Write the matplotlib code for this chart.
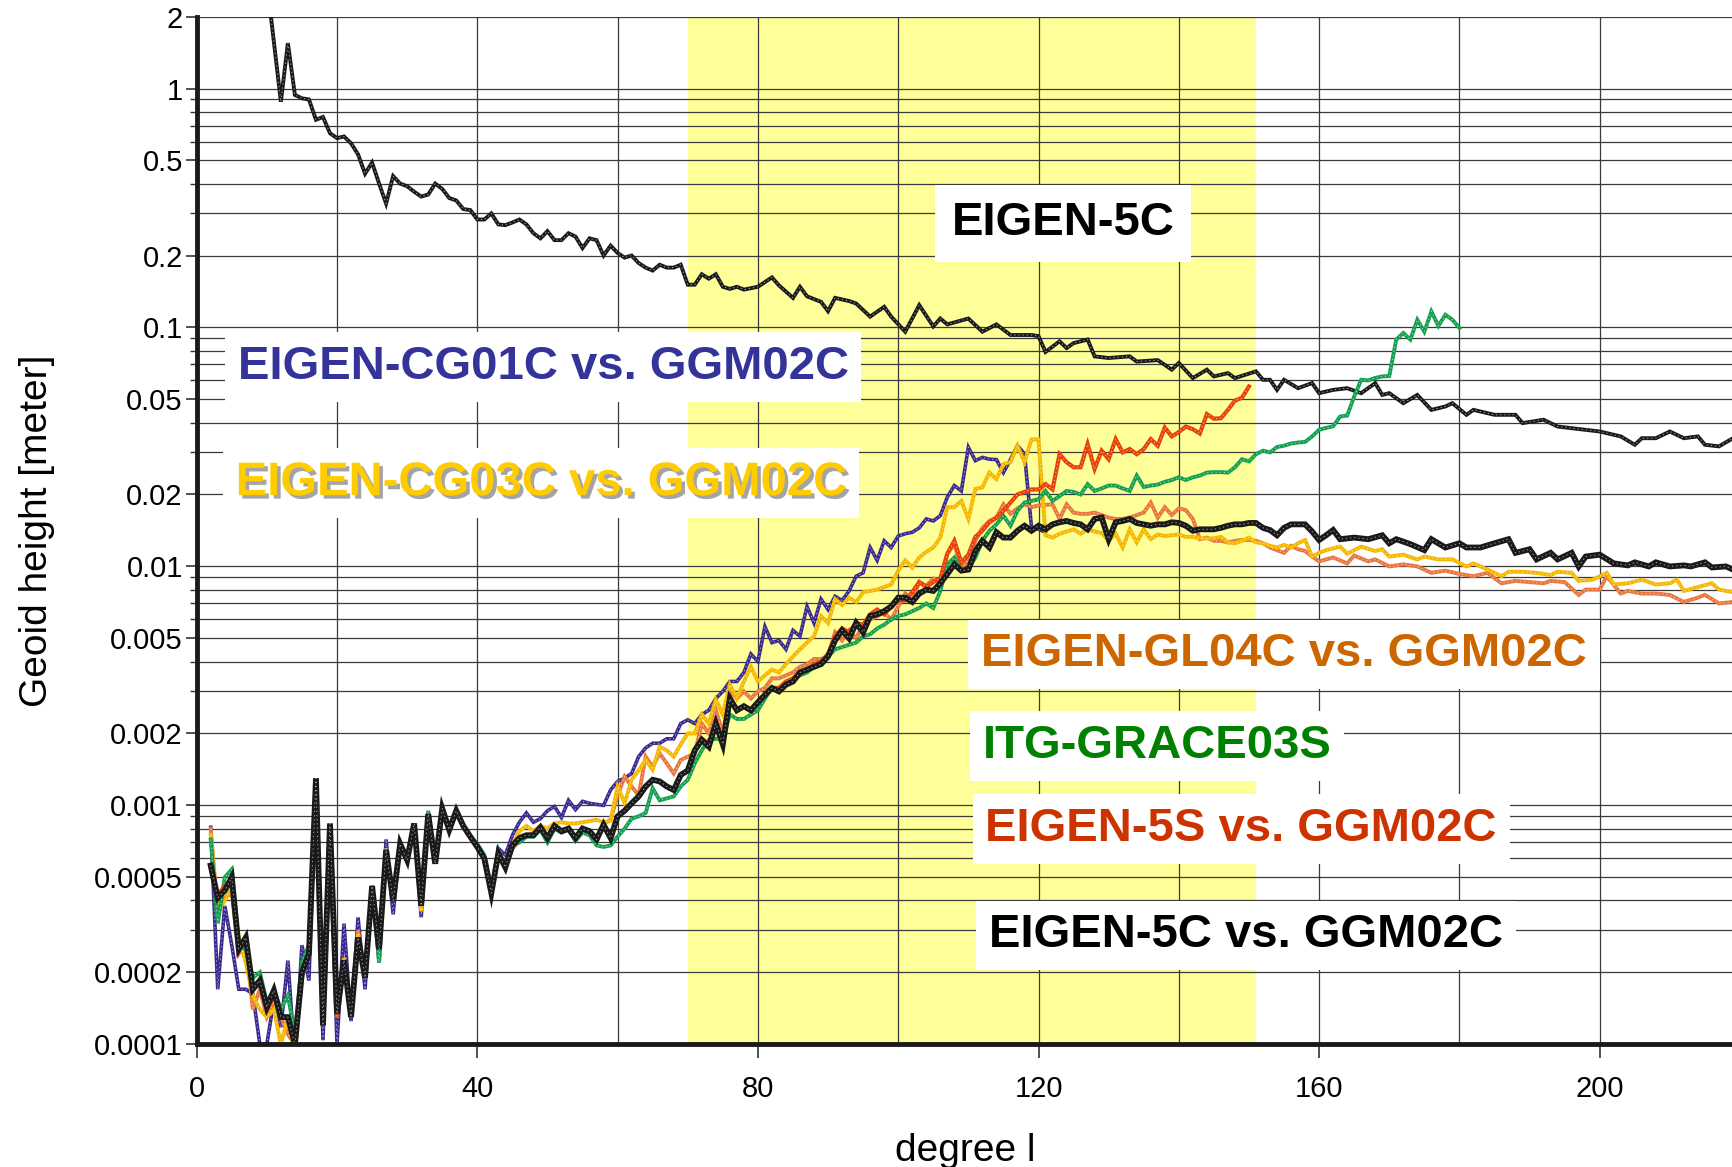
import matplotlib
matplotlib.use("Agg")
import matplotlib.pyplot as plt
import matplotlib.patheffects as pe
from matplotlib.ticker import FixedLocator, LogLocator, NullFormatter, MultipleLocator

plt.rcParams['font.family'] = ['Liberation Sans', 'DejaVu Sans']

# ---------------- data (geoid height per degree, metres) ----------------
# EIGEN-5C signal
sig_deg = [10] + list(range(12, 81)) + [
    82, 83, 85, 86, 87, 89, 90, 91, 93, 94,
    96, 98, 99, 101, 103, 105, 106, 107, 110, 112,
    114, 116, 119, 120, 121, 123, 124, 125, 127, 128,
    130, 133, 134, 137, 139, 140, 142, 144, 145, 147,
    148, 151, 152, 153, 154, 155, 157, 159, 160, 162,
    164, 166, 168, 169, 170, 172, 174, 176, 178, 179,
    181, 182, 184, 185, 188, 189, 192, 194, 196, 198,
    200, 203, 205, 206, 208, 210, 212, 214, 215, 217,
    219]
sig_val = [2.8,
    0.88, 1.55, 0.94, 0.91, 0.90, 0.74, 0.76, 0.65, 0.62, 0.63,
    0.59, 0.53, 0.44, 0.49, 0.40, 0.33, 0.43, 0.40, 0.39, 0.37,
    0.353, 0.36, 0.40, 0.38, 0.348, 0.34, 0.313, 0.31, 0.283, 0.283,
    0.30, 0.27, 0.268, 0.275, 0.283, 0.27, 0.248, 0.236, 0.253, 0.232,
    0.232, 0.248, 0.24, 0.215, 0.236, 0.232, 0.20, 0.22, 0.205, 0.196,
    0.20, 0.186, 0.178, 0.173, 0.183, 0.178, 0.178, 0.183, 0.151, 0.151,
    0.167, 0.160, 0.167, 0.148, 0.145, 0.148, 0.144, 0.146, 0.148,
    0.162, 0.150, 0.133, 0.148, 0.135, 0.128, 0.117, 0.133, 0.129, 0.126,
    0.111, 0.122, 0.111, 0.096, 0.124, 0.101, 0.109, 0.103, 0.109, 0.096,
    0.103, 0.093, 0.093, 0.092, 0.079, 0.0875, 0.082, 0.086, 0.089, 0.0757,
    0.0745, 0.0757, 0.072, 0.073, 0.0666, 0.071, 0.0614, 0.0666, 0.0624, 0.0644,
    0.0614, 0.0655, 0.0604, 0.0604, 0.0548, 0.0604, 0.0557, 0.0585, 0.0531, 0.0548,
    0.0557, 0.0531, 0.0585, 0.0522, 0.0531, 0.0482, 0.0522, 0.0452, 0.0467, 0.0482,
    0.0431, 0.0452, 0.0438, 0.0431, 0.0431, 0.0398, 0.0411, 0.0385, 0.0379, 0.0373,
    0.0367, 0.035, 0.0323, 0.0344, 0.0344, 0.0367, 0.0344, 0.035, 0.0323, 0.0318,
    0.0344]

# EIGEN-CG01C vs. GGM02C
cg01_deg = list(range(2, 122))
cg01_val = [
    0.00081, 0.00017, 0.00038, 0.00026, 0.00017, 0.00017, 0.000163, 0.00010, 0.00010, 0.000153,
    0.000118, 0.000224, 0.000086, 0.00026, 0.000185, 0.0013, 0.000104, 0.00080, 0.00010, 0.00032,
    0.000125, 0.00034, 0.00017, 0.00046, 0.00022, 0.00072, 0.00035, 0.00069, 0.00062, 0.00084,
    0.00034, 0.00090, 0.00057, 0.00097, 0.00079, 0.00095, 0.00082, 0.00074, 0.00067, 0.00060,
    0.00043, 0.00066, 0.00062, 0.00075, 0.00085, 0.00093, 0.00085, 0.00088, 0.00095, 0.00099,
    0.00089, 0.00105, 0.00096, 0.00104, 0.00102, 0.00101, 0.00100, 0.00116, 0.00126, 0.00130,
    0.00136, 0.00160, 0.00174, 0.00182, 0.00182, 0.00190, 0.00190, 0.0022, 0.00228, 0.0022,
    0.0024, 0.0025, 0.0028, 0.0030, 0.0033, 0.0033, 0.0036, 0.0043, 0.0040, 0.0056,
    0.0048, 0.0049, 0.0045, 0.0054, 0.0051, 0.0068, 0.0058, 0.0073, 0.0066, 0.0075,
    0.0072, 0.0079, 0.0091, 0.0094, 0.0120, 0.0106, 0.0128, 0.0120, 0.0134, 0.0137,
    0.0139, 0.0145, 0.0158, 0.0155, 0.0163, 0.0195, 0.0218, 0.0207, 0.0315, 0.0277,
    0.0286, 0.0281, 0.0280, 0.0247, 0.0280, 0.0320, 0.0296, 0.0146, 0.0143, 0.0139]

# EIGEN-CG03C vs. GGM02C
cg03_deg = list(range(2, 164)) + [
    164, 166, 168, 169, 170, 172, 174, 175, 177, 179,
    181, 182, 184, 186, 187, 189, 191, 193, 194, 196,
    197, 199, 201, 202, 204, 206, 208, 210, 211, 212,
    214, 216, 217, 219]
cg03_val = [
    0.00075, 0.00036, 0.00040, 0.00045, 0.00028, 0.00022, 0.00016, 0.00014, 0.00013, 0.00014,
    0.00010, 0.00013, 0.000090, 0.00020, 0.00025, 0.0013, 0.00012, 0.00080, 0.00013, 0.00023,
    0.00013, 0.00029, 0.00019, 0.00046, 0.00025, 0.00066, 0.00040, 0.00069, 0.00059, 0.00082,
    0.00036, 0.00092, 0.00057, 0.00097, 0.00079, 0.00095, 0.00082, 0.00074, 0.00067, 0.00060,
    0.00043, 0.00063, 0.00055, 0.00068, 0.00078, 0.00082, 0.00078, 0.00082, 0.00080, 0.00084,
    0.00085, 0.00084, 0.00084, 0.00085, 0.00086, 0.00087, 0.00085, 0.00086, 0.00120, 0.00102,
    0.00128, 0.00140, 0.00155, 0.00141, 0.00176, 0.00170, 0.00160, 0.00180, 0.0020, 0.0020,
    0.0024, 0.0022, 0.00277, 0.0024, 0.0032, 0.0028, 0.0033, 0.0038, 0.0033, 0.0035,
    0.0037, 0.0036, 0.0039, 0.0042, 0.0045, 0.0048, 0.0051, 0.0062, 0.0058, 0.0073,
    0.0069, 0.0074, 0.0071, 0.0078, 0.0079, 0.0080, 0.0082, 0.0084, 0.0096, 0.0106,
    0.0099, 0.0109, 0.0115, 0.0120, 0.0132, 0.0177, 0.0177, 0.0188, 0.0158, 0.0211,
    0.0214, 0.0247, 0.0232, 0.0268, 0.0273, 0.0320, 0.0273, 0.0340, 0.0340, 0.0135,
    0.0132, 0.0137, 0.0140, 0.0143, 0.0137, 0.0143, 0.0140, 0.0138, 0.0128, 0.0137,
    0.0120, 0.0143, 0.0126, 0.0143, 0.0130, 0.0136, 0.0134, 0.0135, 0.0136, 0.0133,
    0.0133, 0.0131, 0.0131, 0.0131, 0.0133, 0.0126, 0.0125, 0.0128, 0.0132, 0.0126,
    0.0125, 0.0122, 0.0120, 0.0123, 0.0120, 0.0125, 0.0129, 0.0110, 0.0114, 0.0117,
    0.0119, 0.0121,
    0.0113, 0.0121, 0.0116, 0.0118, 0.0110, 0.0112, 0.0107, 0.0110, 0.0107, 0.0107,
    0.0100, 0.0103, 0.0097, 0.0091, 0.0095, 0.0095, 0.0094, 0.0092, 0.0095, 0.0094,
    0.0087, 0.0088, 0.0094, 0.0084, 0.0085, 0.0088, 0.0084, 0.0085, 0.0088, 0.0079,
    0.0082, 0.0085, 0.0080, 0.0078]

# EIGEN-GL04C vs. GGM02C
gl04_deg = list(range(2, 162)) + [
    162, 164, 165, 167, 168, 170, 172, 174, 176, 178,
    180, 182, 184, 186, 188, 190, 192, 193, 195, 197,
    198, 200, 201, 203, 204, 206, 208, 210, 212, 214,
    215, 217, 219]
gl04_val = [
    0.00080, 0.00035, 0.00041, 0.00043, 0.00024, 0.00027, 0.00014, 0.00017, 0.00013, 0.00015,
    0.00013, 0.00011, 0.00010, 0.00019, 0.00024, 0.0013, 0.00012, 0.00080, 0.00013, 0.00022,
    0.00013, 0.00030, 0.00019, 0.00045, 0.00025, 0.00066, 0.00040, 0.00069, 0.00059, 0.00084,
    0.00037, 0.00092, 0.00057, 0.00097, 0.00079, 0.00095, 0.00082, 0.00074, 0.00067, 0.00060,
    0.00043, 0.00063, 0.00055, 0.00066, 0.00071, 0.00075, 0.00076, 0.00080, 0.00072, 0.00080,
    0.00077, 0.00079, 0.00072, 0.00079, 0.00076, 0.00070, 0.00084, 0.00087, 0.00110, 0.00132,
    0.00120, 0.00110, 0.00160, 0.00145, 0.00165, 0.00150, 0.00136, 0.00155, 0.00160, 0.00165,
    0.0022, 0.0020, 0.0025, 0.0020, 0.0030, 0.0028, 0.0030, 0.0028, 0.0030, 0.0031,
    0.0034, 0.0034, 0.0035, 0.0036, 0.0038, 0.0039, 0.0041, 0.0041, 0.0042, 0.0053,
    0.0049, 0.0054, 0.0050, 0.0057, 0.0060, 0.0062, 0.0064, 0.0060, 0.0068, 0.0077,
    0.0072, 0.0086, 0.0083, 0.0089, 0.0087, 0.0113, 0.0124, 0.0099, 0.0106, 0.0128,
    0.0145, 0.0155, 0.0160, 0.0182, 0.0166, 0.0175, 0.0182, 0.0177, 0.0180, 0.0181,
    0.0182, 0.0158, 0.0182, 0.0168, 0.0166, 0.0166, 0.0168, 0.0164, 0.0160, 0.0158,
    0.0158, 0.0160, 0.0164, 0.0168, 0.0185, 0.0160, 0.0177, 0.0164, 0.0175, 0.0172,
    0.0158, 0.0130, 0.0132, 0.0128, 0.0128, 0.0126, 0.0128, 0.0129, 0.0129, 0.0128,
    0.0125, 0.0120, 0.0117, 0.0114, 0.0122, 0.0118, 0.0116, 0.0110, 0.0105, 0.0107,
    0.0109, 0.0103, 0.0111, 0.0105, 0.0107, 0.0100, 0.0102, 0.0100, 0.0094, 0.0096,
    0.0093, 0.0091, 0.0094, 0.0085, 0.0087, 0.0086, 0.0085, 0.0087, 0.0086, 0.0076,
    0.0080, 0.0080, 0.0091, 0.0077, 0.0079, 0.0077, 0.0077, 0.0076, 0.0071, 0.0074,
    0.0076, 0.0070, 0.0071]

# ITG-GRACE03S
itg_deg = list(range(2, 181))
itg_val = [
    0.00072, 0.00032, 0.00050, 0.00054, 0.00026, 0.00025, 0.00019, 0.00020, 0.00015, 0.00017,
    0.00014, 0.00016, 0.00011, 0.00022, 0.00026, 0.0013, 0.00013, 0.00062, 0.00014, 0.00021,
    0.00015, 0.00028, 0.00019, 0.00046, 0.00022, 0.00066, 0.00040, 0.00069, 0.00059, 0.00084,
    0.00038, 0.00095, 0.00057, 0.00097, 0.00079, 0.00095, 0.00082, 0.00074, 0.00069, 0.00062,
    0.00044, 0.00065, 0.00055, 0.00068, 0.00070, 0.00074, 0.00074, 0.00079, 0.00070, 0.00080,
    0.00077, 0.00079, 0.00071, 0.00077, 0.00075, 0.00068, 0.00067, 0.00068, 0.00074, 0.00080,
    0.00088, 0.00090, 0.00093, 0.00118, 0.00105, 0.00107, 0.00109, 0.00120, 0.00128, 0.00150,
    0.00170, 0.00188, 0.0019, 0.0019, 0.0024, 0.0023, 0.0023, 0.0024, 0.0025, 0.0028,
    0.0031, 0.0030, 0.0032, 0.0034, 0.0035, 0.0036, 0.0038, 0.0039, 0.0042, 0.0045,
    0.0046, 0.0047, 0.0048, 0.0051, 0.0052, 0.0055, 0.0057, 0.0060, 0.0062, 0.0063,
    0.0065, 0.0067, 0.0070, 0.0067, 0.0079, 0.0102, 0.0109, 0.0096, 0.0098, 0.0109,
    0.0128, 0.0141, 0.0150, 0.0163, 0.0148, 0.0171, 0.0185, 0.0188, 0.0191, 0.0207,
    0.0188, 0.0197, 0.0207, 0.0205, 0.0200, 0.0221, 0.0207, 0.0212, 0.0218, 0.0218,
    0.0212, 0.0207, 0.0240, 0.0215, 0.0218, 0.0220, 0.0226, 0.0230, 0.0236, 0.0230,
    0.0236, 0.0240, 0.0247, 0.0248, 0.0248, 0.0247, 0.0260, 0.0281, 0.0275, 0.0295,
    0.0305, 0.0300, 0.0316, 0.0320, 0.0327, 0.0330, 0.0332, 0.0350, 0.0373, 0.0380,
    0.0386, 0.0424, 0.0428, 0.0514, 0.0604, 0.0600, 0.0615, 0.0624, 0.0626, 0.0890,
    0.0948, 0.0890, 0.1077, 0.0960, 0.1167, 0.1015, 0.1130, 0.1077, 0.0995]

# EIGEN-5S vs. GGM02C
e5s_deg = list(range(2, 151))
e5s_val = [
    0.00055, 0.00042, 0.00046, 0.00049, 0.00026, 0.00027, 0.00017, 0.00018, 0.00014, 0.00016,
    0.00013, 0.00013, 0.00010, 0.00020, 0.00024, 0.0013, 0.00012, 0.00084, 0.00013, 0.00022,
    0.00013, 0.00028, 0.00019, 0.00046, 0.00025, 0.00065, 0.00040, 0.00069, 0.00059, 0.00084,
    0.00038, 0.00092, 0.00057, 0.00097, 0.00079, 0.00095, 0.00082, 0.00074, 0.00067, 0.00060,
    0.00043, 0.00063, 0.00055, 0.00068, 0.00073, 0.00075, 0.00075, 0.00081, 0.00073, 0.00082,
    0.00078, 0.00080, 0.00073, 0.00080, 0.00078, 0.00072, 0.00082, 0.00073, 0.00090, 0.00095,
    0.00102, 0.00109, 0.00120, 0.00128, 0.00126, 0.00120, 0.00116, 0.00134, 0.00140, 0.00170,
    0.0019, 0.0018, 0.0022, 0.0019, 0.0028, 0.0025, 0.0026, 0.0025, 0.0027, 0.0029,
    0.0031, 0.0031, 0.0033, 0.0034, 0.0036, 0.0037, 0.0039, 0.0040, 0.0043, 0.0051,
    0.0055, 0.0053, 0.0058, 0.0057, 0.0063, 0.0066, 0.0063, 0.0068, 0.0072, 0.0072,
    0.0078, 0.0086, 0.0082, 0.0086, 0.0089, 0.0113, 0.0128, 0.0104, 0.0112, 0.0133,
    0.0141, 0.0153, 0.0160, 0.0171, 0.0185, 0.0200, 0.0205, 0.0210, 0.0210, 0.0221,
    0.0210, 0.0295, 0.0273, 0.0260, 0.0260, 0.0325, 0.0256, 0.0305, 0.0281, 0.0341,
    0.0300, 0.0310, 0.0295, 0.0310, 0.0341, 0.0320, 0.0381, 0.0350, 0.0365, 0.0385,
    0.0375, 0.0360, 0.0434, 0.0415, 0.0417, 0.0452, 0.0494, 0.0508, 0.0566]

# EIGEN-5C vs. GGM02C
e5c_deg = list(range(2, 164)) + [
    165, 167, 169, 170, 171, 173, 175, 176, 178, 180,
    181, 183, 185, 187, 188, 190, 191, 193, 194, 196,
    197, 198, 200, 202, 204, 205, 207, 208, 210, 212,
    213, 215, 216, 218, 219]
e5c_val = [
    0.00056, 0.00041, 0.00044, 0.00050, 0.00025, 0.00028, 0.00017, 0.000185, 0.000143, 0.000168,
    0.00013, 0.00013, 0.00010, 0.00020, 0.00024, 0.0013, 0.00012, 0.00084, 0.000134, 0.000225,
    0.00013, 0.00028, 0.00019, 0.00046, 0.00025, 0.00065, 0.00040, 0.00069, 0.00059, 0.00084,
    0.00038, 0.00092, 0.00057, 0.00097, 0.00079, 0.00095, 0.00082, 0.00074, 0.00067, 0.00060,
    0.00043, 0.00063, 0.00055, 0.00068, 0.00073, 0.00075, 0.00075, 0.00081, 0.00073, 0.00082,
    0.00078, 0.00080, 0.00073, 0.00080, 0.00078, 0.00072, 0.00083, 0.00073, 0.00090, 0.00095,
    0.00102, 0.00109, 0.00120, 0.00128, 0.00126, 0.00120, 0.00116, 0.00134, 0.00140, 0.00170,
    0.00188, 0.00176, 0.0022, 0.0018, 0.0028, 0.0025, 0.0026, 0.0025, 0.0027, 0.0029,
    0.0031, 0.0030, 0.0032, 0.0033, 0.0036, 0.0037, 0.0038, 0.0039, 0.0042, 0.0049,
    0.0054, 0.0050, 0.0058, 0.0053, 0.0062, 0.0063, 0.0065, 0.0068, 0.0074, 0.0074,
    0.0071, 0.0077, 0.0080, 0.0079, 0.0085, 0.0093, 0.0102, 0.0096, 0.0097, 0.0116,
    0.0128, 0.0120, 0.0139, 0.0132, 0.0132, 0.0141, 0.0148, 0.0141, 0.0148, 0.0143,
    0.0150, 0.0153, 0.0155, 0.0152, 0.0150, 0.0143, 0.0158, 0.0160, 0.0130, 0.0153,
    0.0155, 0.0158, 0.0152, 0.0150, 0.0148, 0.0150, 0.0150, 0.0153, 0.0152, 0.0148,
    0.0141, 0.0143, 0.0143, 0.0143, 0.0145, 0.0148, 0.0150, 0.0150, 0.0152, 0.0152,
    0.0145, 0.0142, 0.0135, 0.0145, 0.0150, 0.0150, 0.0150, 0.0140, 0.0129, 0.0135,
    0.0142, 0.0130,
    0.0132, 0.0130, 0.0135, 0.0125, 0.0130, 0.0124, 0.0117, 0.0130, 0.0120, 0.0125,
    0.0120, 0.0120, 0.0125, 0.0130, 0.0114, 0.0118, 0.0107, 0.0114, 0.0107, 0.0114,
    0.0100, 0.0110, 0.0112, 0.0103, 0.0101, 0.0104, 0.0100, 0.0104, 0.0100, 0.0101,
    0.0100, 0.0104, 0.0099, 0.0100, 0.0097]

yticks = [0.0001, 0.0002, 0.0005, 0.001, 0.002, 0.005, 0.01, 0.02, 0.05, 0.1, 0.2, 0.5, 1, 2]
ytick_labels = ['0.0001', '0.0002', '0.0005', '0.001', '0.002', '0.005', '0.01',
                '0.02', '0.05', '0.1', '0.2', '0.5', '1', '2']

# ---------------- figure ----------------
fig = plt.figure(figsize=(17.33, 11.67), dpi=100)
ax = fig.add_axes([0.1135, 0.1051, 0.8865, 0.8807])
ax.set_yscale('log')
ax.set_xlim(0, 219)
ax.set_ylim(1e-4, 2)

# highlighted degree band
ax.axvspan(70, 151, color='#FFFF99', lw=0, zorder=1)


def draw(deg, val, color, lw, z):
    ax.plot(deg, val, color=color, lw=lw, solid_joinstyle='miter', zorder=z)
    ax.plot(deg, val, color='white', lw=0.6, ls=(0, (1.5, 3.5)), alpha=0.7, zorder=z + 0.01)


draw(sig_deg, sig_val, '#1a1a1a', 2.8, 3)
draw(cg01_deg, cg01_val, '#3b2a8f', 2.6, 3.1)
draw(gl04_deg, gl04_val, '#e8763e', 2.8, 3.2)
draw(cg03_deg, cg03_val, '#f5b800', 2.8, 3.3)
draw(itg_deg, itg_val, '#14a050', 2.8, 3.4)
draw(e5s_deg, e5s_val, '#e84208', 3.0, 3.5)
draw(e5c_deg, e5c_val, '#1a1a1a', 4.2, 3.6)

# ticks and grid
ax.yaxis.set_major_locator(FixedLocator(yticks))
ax.set_yticklabels(ytick_labels)
ax.yaxis.set_minor_locator(LogLocator(base=10, subs=range(1, 10), numticks=60))
ax.yaxis.set_minor_formatter(NullFormatter())
ax.xaxis.set_major_locator(MultipleLocator(40))
ax.xaxis.set_minor_locator(MultipleLocator(20))
ax.set_axisbelow('line')
ax.grid(True, which='both', color='#3a3a3a', lw=0.9)
ax.tick_params(axis='x', which='minor', length=0)
ax.tick_params(axis='x', which='major', length=10, width=1.2, labelsize=21, pad=12, color='#333333')
ax.tick_params(axis='y', which='major', length=8, width=1.2, labelsize=21, pad=2, color='#333333')
ax.tick_params(axis='y', which='minor', length=5, width=1.0, color='#333333')

for s in ['top', 'right']:
    ax.spines[s].set_visible(False)
for s in ['left', 'bottom']:
    ax.spines[s].set_linewidth(3.5)
    ax.spines[s].set_color('#1a1a1a')
    ax.spines[s].set_zorder(5)

ax.set_xlabel('degree l', fontsize=28, labelpad=22)
ax.set_ylabel('Geoid height [meter]', fontsize=28, labelpad=28)

# series labels
box = dict(boxstyle='square,pad=0.27', fc='white', ec='none')
ax.text(123.5, 0.273, 'EIGEN-5C', color='black', fontsize=34, fontweight='bold',
        ha='center', va='center', bbox=dict(boxstyle='square,pad=0.35', fc='white', ec='none'), zorder=6)
ax.text(49.4, 0.0684, 'EIGEN-CG01C vs. GGM02C', color='#333399', fontsize=34, fontweight='bold',
        ha='center', va='center', bbox=box, zorder=6)
ax.text(49.1, 0.0223, 'EIGEN-CG03C vs. GGM02C', color='#ffcc00', fontsize=34, fontweight='bold',
        ha='center', va='center', bbox=box, zorder=6,
        path_effects=[pe.withSimplePatchShadow(offset=(2.5, -2.5), shadow_rgbFace='#9a9a9a', alpha=0.9)])
ax.text(155.0, 0.00429, 'EIGEN-GL04C vs. GGM02C', color='#cc6600', fontsize=34, fontweight='bold',
        ha='center', va='center', bbox=box, zorder=6)
ax.text(136.9, 0.00177, 'ITG-GRACE03S', color='#008000', fontsize=34, fontweight='bold',
        ha='center', va='center', bbox=box, zorder=6)
ax.text(148.9, 0.000796, 'EIGEN-5S vs. GGM02C', color='#cc3300', fontsize=34, fontweight='bold',
        ha='center', va='center', bbox=box, zorder=6)
ax.text(149.6, 0.000286, 'EIGEN-5C vs. GGM02C', color='black', fontsize=34, fontweight='bold',
        ha='center', va='center', bbox=box, zorder=6)

fig.savefig('out.png', dpi=100)
